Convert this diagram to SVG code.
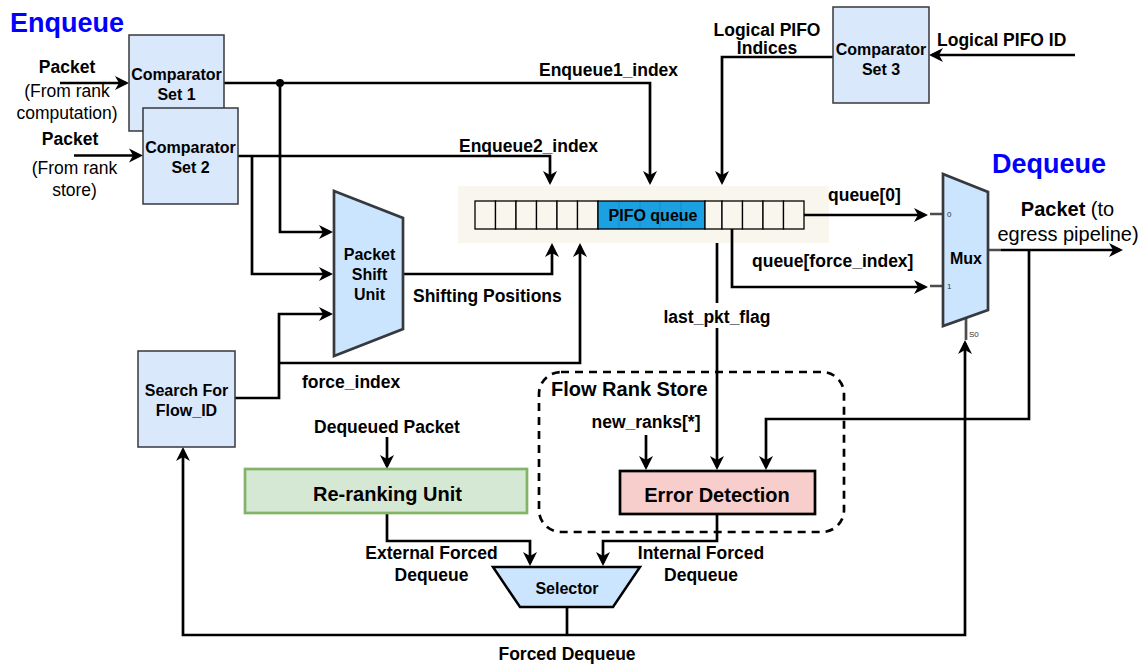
<svg xmlns="http://www.w3.org/2000/svg" width="1144" height="665" viewBox="0 0 1144 665">
  <style>
    text { font-family: "Liberation Sans", Arial, sans-serif; fill: #000; }
    .title { font-size: 27px; font-weight: bold; fill: #0000FF; }
    .lbl { font-size: 17.5px; font-weight: bold; }
    .reg { font-size: 17.5px; font-weight: normal; }
    .nt { font-size: 16px; font-weight: bold; }
    .big { font-size: 20px; font-weight: bold; }
    .tiny { font-size: 8px; fill: #333; }
    .mid { text-anchor: middle; }
    .cmp { fill: #DAE8FC; stroke: #36393D; stroke-width: 1.5; }
    .trap { fill: #CCE5FF; stroke: #36393D; stroke-width: 2.7; }
    .cell { fill: #F9F7ED; stroke: #000; stroke-width: 1.3; }
    .wire { fill: none; stroke: #000; stroke-width: 2.7; }
    .arr { marker-end: url(#ah); }
    .stub { fill: none; stroke: #4D4D4D; stroke-width: 2.7; }
  </style>
  <defs>
    <marker id="ah" viewBox="0 0 16 16" refX="12" refY="8" markerWidth="16" markerHeight="16" orient="auto" markerUnits="userSpaceOnUse">
      <path d="M1,1 L15,8 L1,15 L5,8 Z" fill="#000"/>
    </marker>
  </defs>

  <rect width="1144" height="665" fill="#fff"/>

  <!-- section titles -->
  <text class="title" x="10" y="32">Enqueue</text>
  <text class="title" x="992" y="173">Dequeue</text>

  <!-- PIFO queue -->
  <g id="pifo">
    <rect x="458" y="186" width="371" height="57" fill="#F9F7ED"/>
    <rect class="cell" x="475" y="201" width="20.5" height="28"/>
    <rect class="cell" x="495.5" y="201" width="20.5" height="28"/>
    <rect class="cell" x="516" y="201" width="20.5" height="28"/>
    <rect class="cell" x="536.5" y="201" width="20.5" height="28"/>
    <rect class="cell" x="557" y="201" width="20.5" height="28"/>
    <rect class="cell" x="577.5" y="201" width="20.5" height="28"/>
    <rect x="598" y="201" width="107" height="28" fill="#1BA1E2" stroke="#000" stroke-width="1.3"/>
    <path d="M619,201 V229 M640,201 V229 M660,201 V229 M681,201 V229" stroke="#000" stroke-opacity="0.12" stroke-width="1"/>
    <rect class="cell" x="705" y="201" width="17" height="28"/>
    <rect class="cell" x="722" y="201" width="20.5" height="28"/>
    <rect class="cell" x="742.5" y="201" width="20.5" height="28"/>
    <rect class="cell" x="763" y="201" width="20.5" height="28"/>
    <rect class="cell" x="783.5" y="201" width="20.5" height="28"/>
    <text class="nt mid" x="653" y="221" fill="#1a1a1a">PIFO queue</text>
  </g>

  <!-- Flow Rank Store container -->
  <g id="flow-rank-store">
    <rect x="539" y="372" width="305" height="160" rx="22" fill="none" stroke="#000" stroke-width="2.7" stroke-dasharray="8 6"/>
    <text class="big" x="551" y="396">Flow Rank Store</text>
  </g>

  <!-- connectors -->
  <g id="connectors">
    <path class="wire arr" d="M60,83 H126"/>
    <path class="wire arr" d="M74,155.5 H140"/>
    <path class="wire arr" d="M224,83 H650 V182"/>
    <path class="wire arr" d="M280,83 V232 H330"/>
    <circle cx="280" cy="83" r="4" fill="#000"/>
    <path class="wire arr" d="M238,156 H550 V182"/>
    <path class="wire arr" d="M252,156 V274 H330"/>
    <path class="wire arr" d="M235,398 H279 V314 H330"/>
    <path class="wire arr" d="M279,363 H580 V246"/>
    <path class="wire arr" d="M403,274 H552 V246"/>
    <path class="wire arr" d="M833,57 H722 V182"/>
    <path class="wire arr" d="M1075,55 H932"/>
    <path class="wire arr" d="M804,215 H925"/>
    <path class="wire arr" d="M732,229 V287 H925"/>
    <path class="wire arr" d="M717,243 V467"/>
    <path class="wire arr" d="M1001,250 H1120"/>
    <path class="wire arr" d="M1029,250 V419 H766 V467"/>
    <path class="wire arr" d="M646,435 V467"/>
    <path class="wire arr" d="M387,437 V466"/>
    <path class="wire arr" d="M387,513 V541 H530 V563"/>
    <path class="wire arr" d="M717,514 V541 H603 V563"/>
    <path class="wire" d="M567,607 V635"/>
    <path class="wire arr" d="M567,635 H183 V450"/>
    <path class="wire arr" d="M567,635 H965 V343"/>

    <!-- connector labels -->
    <text class="lbl mid" x="67" y="73">Packet</text>
    <text class="reg mid" x="67" y="97">(From rank</text>
    <text class="reg mid" x="67" y="119">computation)</text>
    <text class="lbl mid" x="70" y="145">Packet</text>
    <text class="reg mid" x="74.5" y="174">(From rank</text>
    <text class="reg mid" x="74.5" y="196">store)</text>
    <text class="lbl" x="539" y="76">Enqueue1_index</text>
    <text class="lbl" x="459" y="151.5">Enqueue2_index</text>
    <text class="lbl mid" x="767" y="35.5">Logical PIFO</text>
    <text class="lbl mid" x="767" y="53.5">Indices</text>
    <text class="lbl" x="937" y="46">Logical PIFO ID</text>
    <text class="lbl" x="413" y="301.5">Shifting Positions</text>
    <text class="lbl" x="302" y="388">force_index</text>
    <text class="lbl" x="828" y="201">queue[0]</text>
    <text class="lbl" x="752" y="267">queue[force_index]</text>
    <rect x="664" y="303" width="106" height="25" fill="#fff"/>
    <text class="lbl mid" x="717" y="323">last_pkt_flag</text>
    <text x="1067.5" y="215.5" text-anchor="middle" style="font-size:20px"><tspan font-weight="bold">Packet</tspan> (to</text>
    <text class="mid" x="1068" y="240.5" style="font-size:20px">egress pipeline)</text>
    <text class="lbl mid" x="646" y="428">new_ranks[*]</text>
    <text class="lbl mid" x="387" y="432.5">Dequeued Packet</text>
    <text class="lbl mid" x="431.5" y="559">External Forced</text>
    <text class="lbl mid" x="431.5" y="581">Dequeue</text>
    <text class="lbl mid" x="701" y="559">Internal Forced</text>
    <text class="lbl mid" x="701" y="581">Dequeue</text>
    <text class="lbl mid" x="567" y="660">Forced Dequeue</text>
  </g>

  <!-- nodes -->
  <g id="comparator-set-1">
    <rect class="cmp" x="129" y="35" width="95" height="96"/>
    <text class="nt mid" x="176.5" y="80">Comparator</text>
    <text class="nt mid" x="176.5" y="100">Set 1</text>
  </g>
  <g id="comparator-set-2">
    <rect class="cmp" x="143" y="108" width="95" height="96"/>
    <text class="nt mid" x="190.5" y="152.5">Comparator</text>
    <text class="nt mid" x="190.5" y="173">Set 2</text>
  </g>
  <g id="comparator-set-3">
    <rect class="cmp" x="833" y="7" width="96" height="96"/>
    <text class="nt mid" x="881" y="55">Comparator</text>
    <text class="nt mid" x="881" y="75">Set 3</text>
  </g>
  <g id="packet-shift-unit">
    <polygon class="trap" points="334,191 403,218 403,329 334,356"/>
    <text class="nt mid" x="369.5" y="260">Packet</text>
    <text class="nt mid" x="369.5" y="280">Shift</text>
    <text class="nt mid" x="369.5" y="300">Unit</text>
  </g>
  <g id="search-flow-id">
    <rect class="cmp" x="138" y="351" width="97" height="96"/>
    <text class="nt mid" x="186.5" y="396">Search For</text>
    <text class="nt mid" x="186.5" y="416">Flow_ID</text>
  </g>
  <g id="mux">
    <path class="stub" d="M930,214 H943 M930,286 H943 M988,250 H1001 M966,318 V340"/>
    <polygon class="trap" points="943,174 988,192 988,310 943,326"/>
    <text class="nt mid" x="966" y="263.5">Mux</text>
    <text class="tiny" x="947" y="217">0</text>
    <text class="tiny" x="947" y="289">1</text>
    <text class="tiny" x="969" y="337">S0</text>
  </g>
  <g id="reranking-unit">
    <rect x="245" y="469" width="282" height="44" fill="#D5E8D4" stroke="#82B366" stroke-width="2.7"/>
    <text class="big mid" x="387.5" y="501">Re-ranking Unit</text>
  </g>
  <g id="error-detection">
    <rect x="620" y="471" width="195" height="43" fill="#F8CECC" stroke="#000" stroke-width="2.7"/>
    <text class="big mid" x="717" y="502">Error Detection</text>
  </g>
  <g id="selector">
    <polygon points="493,567 640,567 613,607 520,607" fill="#CCE5FF" stroke="#000" stroke-width="2.5"/>
    <text class="nt mid" x="567" y="594">Selector</text>
  </g>
</svg>
